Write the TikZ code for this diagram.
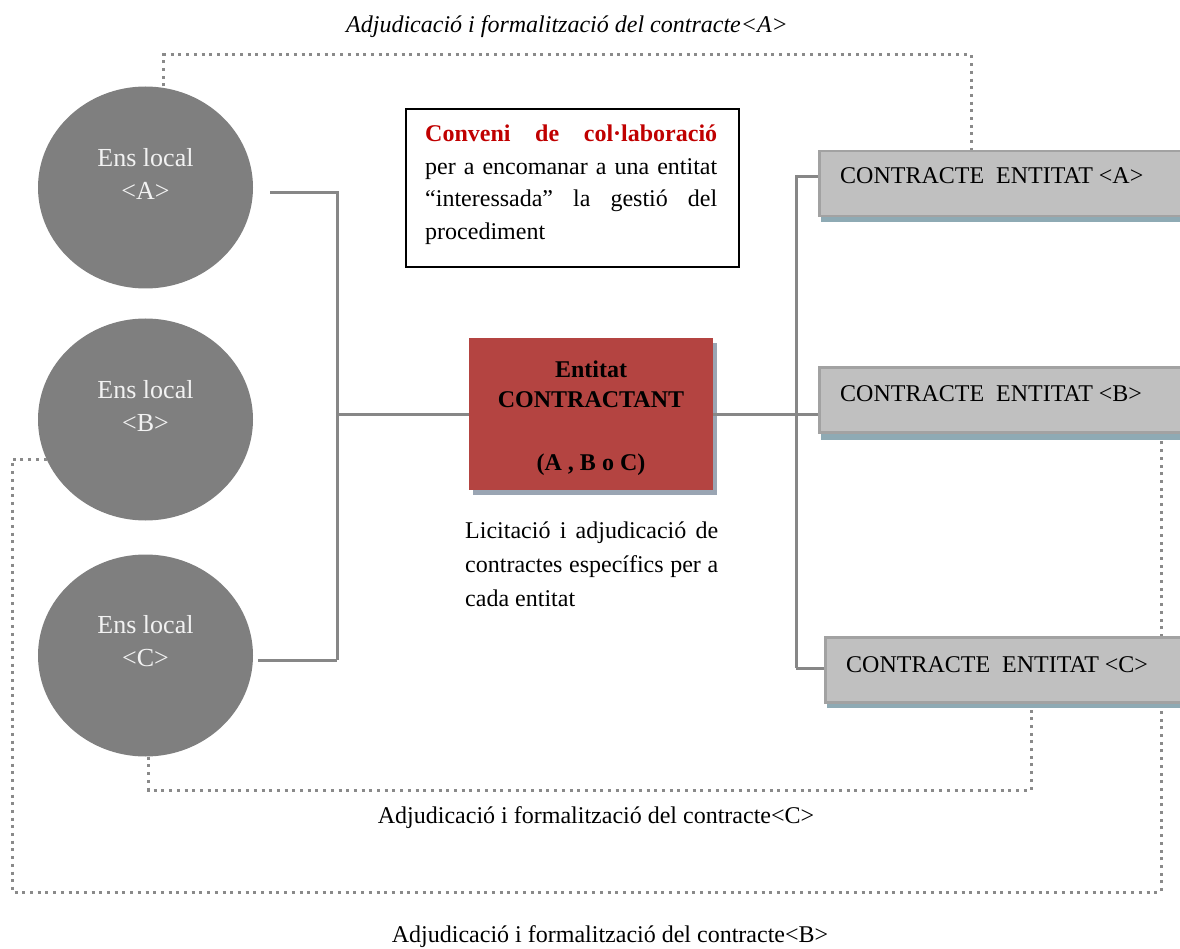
\documentclass[tikz,border=0pt]{standalone}
\usepackage{fontspec}
\setmainfont{Liberation Serif}
\usetikzlibrary{shapes.geometric}
\definecolor{ensgray}{HTML}{7F7F7F}
\definecolor{linegray}{HTML}{878787}
\definecolor{dotgray}{HTML}{8A8A8A}
\definecolor{boxgray}{HTML}{C0C0C0}
\definecolor{boxedge}{HTML}{A2A2A2}
\definecolor{boxshadow}{HTML}{8EAAB4}
\definecolor{redfill}{HTML}{B44441}
\definecolor{redshadow}{HTML}{9AA5B3}
\definecolor{convred}{HTML}{C00000}
\begin{document}
\begin{tikzpicture}[x=1pt,y=-1pt,
  every node/.style={font=\fontsize{24}{32.5}\selectfont},
  ens/.style={ellipse, fill=ensgray, minimum width=215pt, minimum height=202pt, inner sep=0pt},
  enstxt/.style={text=white!95!black, align=center, inner sep=0pt,
    font=\fontsize{26}{33}\selectfont},
  conn/.style={draw=linegray, line width=3pt},
  dots/.style={draw=dotgray, line width=3pt, dash pattern=on 3pt off 4.7pt},
  contract/.style={rectangle, fill=boxgray, draw=boxedge, line width=2.5pt,
    minimum width=372pt, minimum height=65pt, inner sep=0pt, anchor=north west},
  contracttxt/.style={anchor=base west, inner sep=0pt},
  para/.style={anchor=north west, inner sep=0pt, align=justify,
    execute at begin node={\hyphenpenalty=10000\relax}},
  dotlabel/.style={inner sep=0pt, anchor=base},
]
\useasboundingbox (0,0) rectangle (1180,949);

% local entities
\node[ens] (ensA) at (145.5,187.5) {};
\node[ens] (ensB) at (145.5,419.5) {};
\node[ens] (ensC) at (145.5,655.5) {};
\node[enstxt] (ensAtxt) at (145.5,174) {Ens local\\<A>};
\node[enstxt] (ensBtxt) at (145.5,406) {Ens local\\<B>};
\node[enstxt] (ensCtxt) at (145.5,641) {Ens local\\<C>};

% dotted award paths
\draw[dots] ([xshift=18pt]ensA.north) -- (163.5,55) -- (971,55) -- (971,0 |- 0,150);
\draw[dots] (ensB.202) -- (12,0 |- ensB.202) -- (12,892) -- (1161,892) -- (1161,432);
\draw[dots] ([xshift=3pt]ensC.south) |- (1031,790) -- (1031,700);

% contracting entity
\fill[redshadow] (473,343) rectangle (717,495);
\node[fill=redfill, minimum width=244pt, minimum height=152pt, inner sep=0pt,
  anchor=north west] (red) at (469,338) {};
\node[align=center, inner sep=0pt, anchor=north,
  font=\fontsize{24}{30}\selectfont\bfseries] (redtxt) at (591,361)
  {Entitat\\CONTRACTANT\\[33pt](A , B o C)};

% contracts
\fill[boxshadow] (821,212) rectangle (1190,222);
\node[contract] (cA) at (818,150) {};
\fill[boxshadow] (821,429) rectangle (1190,440);
\node[contract] (cB) at (818,366) {};
\fill[boxshadow] (827,698) rectangle (1190,708);
\node[contract] (cC) at (824,636) {};
\node[contracttxt] (cAtxt) at (840,184) {CONTRACTE\ \ ENTITAT <A>};
\node[contracttxt] (cBtxt) at (840,401) {CONTRACTE\ \ ENTITAT <B>};
\node[contracttxt] (cCtxt) at (846,672) {CONTRACTE\ \ ENTITAT <C>};

% solid connectors
\coordinate (lbusTop) at (337,193);
\coordinate (lbusBot) at (337,660);
\coordinate (rbusTop) at (796,177);
\coordinate (rbusBot) at (796,668);
\draw[conn] ([shift={(17,5.5)}]ensA.east) -- (lbusTop) -- (lbusBot);
\draw[conn] ([shift={(5,4.5)}]ensC.east) -- (lbusBot);
\draw[conn] (lbusTop |- red.west) -- (red.west);
\draw[conn] (red.east) -- (cB.west |- red.east);
\draw[conn] (796,175) -- (rbusBot);
\draw[conn] (rbusTop) -- (cA.west |- rbusTop);
\draw[conn] (rbusBot) -- (cC.west |- rbusBot);

% agreement box
\node[draw=black, line width=2pt, minimum width=333pt, minimum height=158pt,
  inner sep=0pt, anchor=north west] (conv) at (405,108) {};
\node[para, text width=292pt] (convtxt) at (425,125)
  {\textcolor{convred}{\bfseries Conveni de col·laboració}\linebreak
   per a encomanar a una entitat\linebreak
   “interessada” la gestió del\linebreak
   procediment};

% tendering note
\node[para, text width=253pt, font=\fontsize{24}{34}\selectfont] (lictxt) at (465,522)
  {Licitació i adjudicació de\linebreak
   contractes específics per a\linebreak
   cada entitat};

% labels of the award paths
\node[dotlabel, font=\fontsize{24}{30}\selectfont\itshape] (labA) at (567,33)
  {Adjudicació i formalització del contracte<A>};
\node[dotlabel] (labC) at (596,823) {Adjudicació i formalització del contracte<C>};
\node[dotlabel] (labB) at (610,942) {Adjudicació i formalització del contracte<B>};
\end{tikzpicture}
\end{document}
